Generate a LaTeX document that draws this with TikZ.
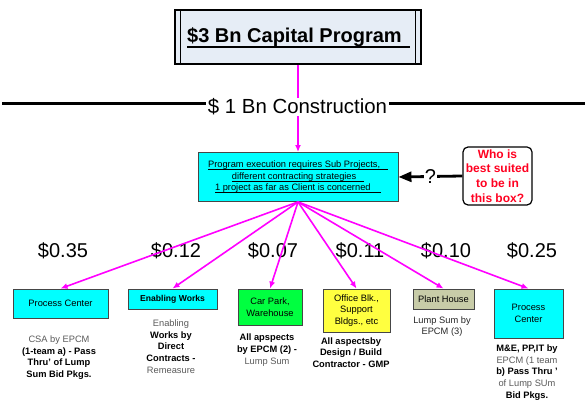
\documentclass[tikz,border=0pt]{standalone}
\usepackage{fontspec}
\setmainfont{Liberation Sans}
\usetikzlibrary{arrows.meta}
\definecolor{mag}{RGB}{255,0,255}
\definecolor{cyanbox}{RGB}{0,255,255}
\definecolor{greenbox}{RGB}{0,255,64}
\definecolor{yellowbox}{RGB}{255,255,64}
\definecolor{plantbox}{RGB}{200,204,168}
\definecolor{titlefill}{RGB}{230,237,246}
\definecolor{edgegray}{RGB}{70,70,70}
\definecolor{txtgray}{RGB}{90,90,90}
\definecolor{redtxt}{RGB}{255,0,32}
\newcommand\ulx[1]{\setbox0=\hbox{#1}\leavevmode\rlap{\vrule height -1.3pt depth 1.9pt width \wd0}\box0}
\begin{document}
\begin{tikzpicture}[x=1pt,y=-1pt,
  box/.style={draw=edgegray,line width=0.9pt,inner sep=1pt,align=center,font=\fontsize{9.3}{11.5}\selectfont},
  flow/.style={draw=mag,line width=1.6pt,-{Latex[length=7pt,width=6pt]}},
  money/.style={font=\fontsize{20}{24}\selectfont},
  desc/.style={align=center,font=\fontsize{9.3}{11.7}\selectfont}]
\useasboundingbox (0,0) rectangle (587,414);

% title box
\node[draw=black,line width=1.2pt,fill=titlefill,minimum width=246pt,minimum height=54pt,inner sep=0pt] (t) at (298,37) {};
\draw[line width=1pt] ([xshift=6pt]t.north west) -- ([xshift=6pt]t.south west);
\draw[line width=1pt] ([xshift=-6pt]t.north east) -- ([xshift=-6pt]t.south east);
\node[anchor=base west,inner sep=0pt,font=\bfseries\fontsize{20}{24}\selectfont] (tt) at (187,43) {\$3 Bn Capital Program};
\draw[line width=2.2pt] ([yshift=-4pt]tt.base west) -- ++(223,0);

% middle box
\node[box,fill=cyanbox,minimum width=200pt,minimum height=49pt,font=\fontsize{9.3}{11.5}\selectfont] (m) at (298,177)
  {\ulx{Program execution requires Sub Projects,\ \ \ }\\
   \ulx{different contracting strategies\ \ \ }\\
   \ulx{1 project as far as Client is concerned\ \ \ \ }};

% question box
\node[draw=black,line width=1.2pt,rounded corners=5pt,minimum width=69pt,minimum height=58pt,align=center,
      text=redtxt,font=\bfseries\fontsize{12}{14.7}\selectfont,inner sep=1pt] (q) at (497.5,176)
  {Who is\\best suited\\to be in\\this box?};
\draw[line width=2.8pt,-{Triangle[length=13pt,width=10pt]}] (q.west) -- (m.east)
  node[midway,fill=white,inner sep=1pt,font=\fontsize{20}{24}\selectfont] (qm) {?};

% construction line
\draw[flow] (t) -- (m);
\coordinate (hl) at (2,104);
\coordinate (hr) at (585,104);
\draw[line width=3pt] (hl) -- (hr);
\node[fill=white,inner xsep=2pt,inner ysep=1pt,font=\fontsize{20.4}{24}\selectfont] (c) at (297.5,107) {\$ 1 Bn Construction};

% money labels
\node[money] (v1) at (63,251) {\$0.35};
\node[money] (v2) at (176,251) {\$0.12};
\node[money] (v3) at (273,251) {\$0.07};
\node[money] (v4) at (360,251) {\$0.11};
\node[money] (v5) at (446,251) {\$0.10};
\node[money] (v6) at (532,251) {\$0.25};

% boxes
\node[box,fill=cyanbox,minimum width=95pt,minimum height=29pt] (b1) at (60.5,303.5) {Process Center};
\node[box,fill=cyanbox,minimum width=89pt,minimum height=20pt,font=\bfseries\fontsize{8.6}{11}\selectfont] (b2) at (172.5,299) {Enabling Works};
\node[box,fill=greenbox,minimum width=64pt,minimum height=36pt] (b3) at (270,307) {Car Park,\\Warehouse};
\node[box,fill=yellowbox,minimum width=67pt,minimum height=43pt] (b4) at (356.5,310.5) {Office Blk.,\\Support\\Bldgs., etc};
\node[box,fill=plantbox,minimum width=61pt,minimum height=20pt] (b5) at (443.5,299) {Plant House};
\node[box,fill=cyanbox,minimum width=69pt,minimum height=49pt] (b6) at (528.5,313.5) {Process\\Center};

% arrows
\foreach \b in {b1,b2,b3,b4,b5,b6} \draw[flow] (m.south) -- (\b.north);

% descriptions
\node[desc] (d1) at (59,357.5) {{\color{txtgray}CSA by EPCM}\\\textbf{(1-team a) - Pass}\\\textbf{Thru' of Lump}\\\textbf{Sum Bid Pkgs.}};
\node[desc] (d2) at (171,346.5) {{\color{txtgray}Enabling}\\\textbf{Works by}\\\textbf{Direct}\\\textbf{Contracts -}\\{\color{txtgray}Remeasure}};
\node[desc] (d3) at (267,350) {\textbf{All apspects}\\\textbf{by EPCM (2) -}\\{\color{txtgray}Lump Sum}};
\node[desc] (d4) at (351,352.5) {\textbf{All aspectsby}\\\textbf{Design / Build}\\\textbf{Contractor - GMP}};
\node[desc] (d5) at (442,326.5) {{\color{black!85}Lump Sum by}\\{\color{black!85}EPCM (3)}};
\node[desc] (d6) at (527,372.5) {\textbf{M\&E, PP,IT by}\\{\color{txtgray}EPCM (1 team}\\\textbf{b) Pass Thru '}\\{\color{txtgray}of Lump SUm}\\\textbf{Bid Pkgs.}};
\end{tikzpicture}
\end{document}
